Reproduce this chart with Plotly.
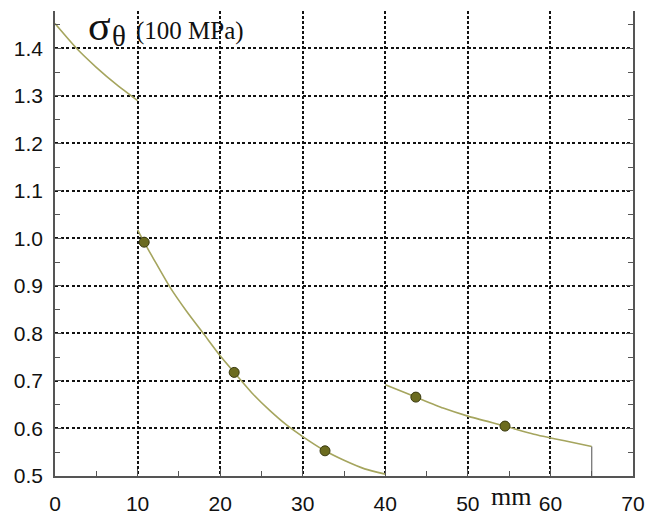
import plotly.graph_objects as go

# Segment curves (x in mm, stress in 100 MPa)
seg1_x = [0, 2.6, 5, 7.5, 10]
seg1_y = [1.452, 1.400, 1.360, 1.323, 1.290]

seg2_x = [10, 10.8, 12, 13.9, 16, 18.05, 20, 21.7, 24, 26, 28, 30, 32.7, 35, 37.5, 40]
seg2_y = [1.018, 0.992, 0.955, 0.898, 0.845, 0.798, 0.753, 0.718, 0.672, 0.638, 0.608, 0.583, 0.553, 0.533, 0.515, 0.504]

seg3_x = [40, 43.7, 47, 50, 54.5, 58, 62, 65]
seg3_y = [0.692, 0.666, 0.643, 0.626, 0.605, 0.588, 0.573, 0.562]

edge_x = [65, 65]
edge_y = [0.562, 0.5]

pts_x = [10.8, 21.7, 32.7, 43.7, 54.5]
pts_y = [0.992, 0.718, 0.553, 0.666, 0.605]

x_ticks = [0, 10, 20, 30, 40, 50, 60, 70]
y_ticks = [0.5, 0.6, 0.7, 0.8, 0.9, 1.0, 1.1, 1.2, 1.3, 1.4]
y_labels = ["0.5", "0.6", "0.7", "0.8", "0.9", "1.0", "1.1", "1.2", "1.3", "1.4"]

line_col = "#a5a55e"
fig = go.Figure()
for xs, ys in [(seg1_x, seg1_y), (seg2_x, seg2_y), (seg3_x, seg3_y)]:
    fig.add_trace(go.Scatter(x=xs, y=ys, mode="lines",
                             line=dict(color=line_col, width=1.6, shape="spline", smoothing=0.6),
                             hoverinfo="skip", showlegend=False))
fig.add_trace(go.Scatter(x=edge_x, y=edge_y, mode="lines",
                         line=dict(color="#777777", width=1.3), showlegend=False))
fig.add_trace(go.Scatter(x=pts_x, y=pts_y, mode="markers",
                         marker=dict(color="#6b6b1f", size=10, line=dict(color="#3a3a10", width=1)),
                         showlegend=False))

tick_font = dict(family="Liberation Sans, Arial, sans-serif", size=21, color="#111111")
fig.update_layout(
    width=649, height=517,
    margin=dict(l=55, r=16, t=11, b=41, autoexpand=False),
    paper_bgcolor="white", plot_bgcolor="white",
    xaxis=dict(range=[0, 70], tickvals=x_ticks, ticktext=[str(v) for v in x_ticks],
               showline=True, linecolor="#555555", linewidth=1.6, mirror=False,
               ticks="inside", ticklen=7, tickcolor="#555555", tickwidth=1.4,
               minor=dict(ticks="inside", dtick=5, tick0=0, ticklen=5, tickcolor="#555555", showgrid=False),
               showgrid=True, gridcolor="#111111", gridwidth=1.6, griddash="2.5px,2.5px",
               tickfont=tick_font, ticklabelstandoff=8, zeroline=False, automargin=False),
    yaxis=dict(range=[0.5, 1.4785], tickvals=y_ticks, ticktext=y_labels,
               showline=True, linecolor="#555555", linewidth=1.6, mirror="ticks",
               ticks="inside", ticklen=7, tickcolor="#555555", tickwidth=1.4,
               minor=dict(ticks="inside", dtick=0.05, tick0=0.5, ticklen=5, tickcolor="#555555", showgrid=False),
               showgrid=True, gridcolor="#111111", gridwidth=1.6, griddash="3px,2.5px",
               tickfont=tick_font, ticklabelstandoff=6, zeroline=False, automargin=False),
)

serif = "Liberation Serif, Times New Roman, serif"
annots = [
    dict(text="σ", px=86, py=26, size=42),
    dict(text="θ", px=110, py=36, size=29),
    dict(text="(100 MPa)", px=134, py=31, size=25),
    dict(text="mm", px=489, py=496, size=26),
]
W, H = 649, 517
l, r, t, b = 55, 16, 11, 41
pw, ph = W - l - r, H - t - b
for a in annots:
    fig.add_annotation(x=(a["px"] - l) / pw, y=1 - (a["py"] - t) / ph, xref="paper", yref="paper",
                       text=a["text"], showarrow=False, xanchor="left", yanchor="middle",
                       font=dict(family=serif, size=a["size"], color="#111111"))

fig.write_html("out.html")
